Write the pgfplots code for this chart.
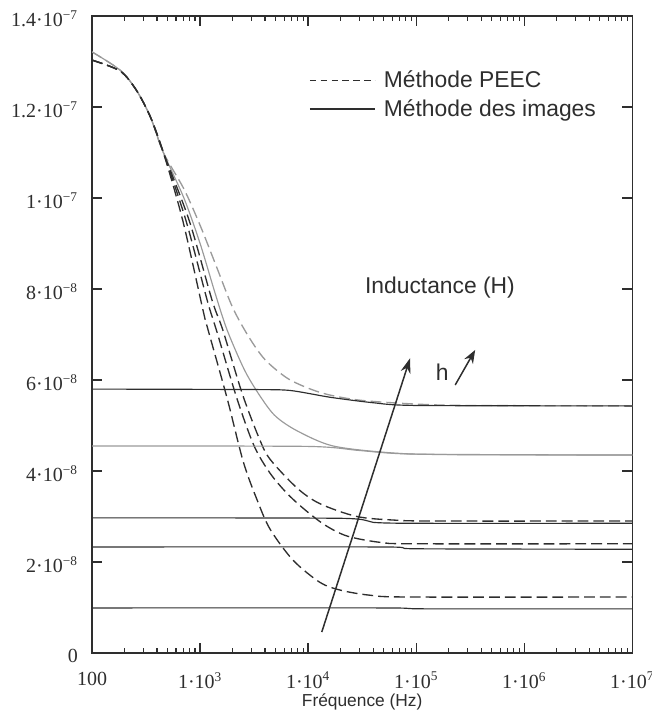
\documentclass[border=0pt]{standalone}
\usepackage{fontspec}
\setmainfont{Liberation Serif}
\newfontfamily\arial{Liberation Sans}
\usepackage{pgfplots}
\pgfplotsset{compat=1.18}
\usetikzlibrary{arrows.meta}

\definecolor{cInk}{HTML}{2E2E2E}
\definecolor{cLight}{HTML}{9A9A9A}

\begin{document}
\begin{tikzpicture}
\begin{axis}[
  scale only axis,
  width=324pt, height=382pt,
  xmode=log,
  xmin=100, xmax=1e7,
  ymin=0, ymax=1.4e-7,
  xtick={100,1e3,1e4,1e5,1e6,1e7},
  xticklabels={100, 1·10\textsuperscript{3}, 1·10\textsuperscript{4}, 1·10\textsuperscript{5}, 1·10\textsuperscript{6}, 1·10\textsuperscript{7}},
  ytick={0,2e-8,4e-8,6e-8,8e-8,1e-7,1.2e-7,1.4e-7},
  yticklabels={0, 2·10\textsuperscript{−8}, 4·10\textsuperscript{−8}, 6·10\textsuperscript{−8}, 8·10\textsuperscript{−8}, 1·10\textsuperscript{−7}, 1.2·10\textsuperscript{−7}, 1.4·10\textsuperscript{−7}},
  scaled y ticks=false,
  minor xtick={}, minor ytick={},
  tick align=inside,
  major tick length=6pt,
  axis line style={line width=0.9pt, cInk},
  tick style={line width=0.8pt, cInk},
  ticklabel style={font=\fontsize{12}{14}\selectfont, text=cInk},
  yticklabel style={xshift=-5pt, yshift=-1.5pt},
  xticklabel style={yshift=-8pt},
  xlabel={\arial\fontsize{10.4}{12}\selectfont Fréquence (Hz)},
  xlabel style={yshift=4pt, text=cInk},
  legend cell align=left,
  legend style={at={(rel axis cs:0.392,0.925)}, anchor=north west, draw=none, fill=none,
    font=\arial\fontsize{13.7}{16.5}\selectfont, text=cInk, row sep=1.5pt},
  legend image code/.code={\draw[#1] (0pt,0pt) -- (39pt,0pt);},
]

% legende
\addlegendimage{cInk, line width=0.8pt, dash pattern=on 4pt off 2.5pt}
\addlegendentry{\hspace{3pt}Méthode PEEC}
\addlegendimage{cInk, line width=0.8pt}
\addlegendentry{\hspace{3pt}Méthode des images}

% --- Methode PEEC (tirets) ---
\addplot[cLight, line width=0.8pt, dash pattern=on 6.5pt off 3pt, smooth, tension=0.5, forget plot] coordinates {
  (100,1.321e-7) (182,1.281e-7) (257,1.237e-7) (347,1.178e-7) (457,1.10e-7)
  (708,1.02e-7) (1000,9.4e-8) (1413,8.5e-8) (1995,7.6e-8) (2818,6.95e-8)
  (3981,6.45e-8) (6310,6.05e-8) (10000,5.82e-8) (15849,5.67e-8) (31623,5.55e-8)
  (1e5,5.47e-8) (316228,5.44e-8) (1e7,5.43e-8)
};
\addplot[cLight, line width=0.7pt, smooth, tension=0.5, forget plot] coordinates {
  (100,1.321e-7) (182,1.281e-7) (257,1.237e-7) (347,1.178e-7) (457,1.10e-7)
  (708,1.0e-7) (1000,9.0e-8) (1380,7.9e-8) (1778,7.1e-8) (2600,6.2e-8)
  (3700,5.6e-8) (5012,5.2e-8) (7943,4.88e-8) (16982,4.55e-8) (57544,4.40e-8)
  (199526,4.36e-8) (1e7,4.35e-8)
};
\addplot[cInk, line width=0.8pt, dash pattern=on 6.5pt off 3pt, smooth, tension=0.5, forget plot] coordinates {
  (100,1.303e-7) (182,1.279e-7) (257,1.237e-7) (347,1.178e-7) (457,1.10e-7)
  (794,9.5e-8) (1288,7.76e-8) (1622,7.10e-8) (2455,5.70e-8) (3548,4.70e-8)
  (4467,4.25e-8) (7943,3.62e-8) (12882,3.28e-8) (28184,3.0e-8) (63096,2.92e-8)
  (158489,2.90e-8) (1e7,2.90e-8)
};
\addplot[cInk, line width=0.8pt, dash pattern=on 6.5pt off 3pt, smooth, tension=0.5, forget plot] coordinates {
  (100,1.303e-7) (182,1.279e-7) (257,1.237e-7) (347,1.178e-7) (457,1.10e-7)
  (741,9.5e-8) (1161,7.76e-8) (1435,7.05e-8) (2188,5.60e-8) (3162,4.55e-8)
  (4446,3.95e-8) (6310,3.52e-8) (8995,3.18e-8) (14125,2.82e-8) (22909,2.57e-8)
  (46774,2.43e-8) (1e5,2.40e-8) (1e7,2.40e-8)
};
\addplot[cInk, line width=0.8pt, dash pattern=on 6.5pt off 3pt, smooth, tension=0.5, forget plot] coordinates {
  (100,1.303e-7) (182,1.279e-7) (257,1.237e-7) (347,1.178e-7) (457,1.10e-7)
  (692,9.5e-8) (1072,7.5e-8) (1186,7.1e-8) (1778,5.6e-8) (2512,4.2e-8)
  (3388,3.35e-8) (4446,2.72e-8) (7244,2.04e-8) (12882,1.55e-8) (19953,1.38e-8)
  (37154,1.27e-8) (87096,1.23e-8) (1e7,1.23e-8)
};

% --- Methode des images (traits pleins) ---
\addplot[cInk, line width=0.7pt, smooth, tension=0.4, forget plot] coordinates {
  (100,5.80e-8) (3000,5.79e-8) (6800,5.77e-8) (16000,5.62e-8) (40000,5.50e-8) (1e5,5.44e-8) (1e7,5.43e-8)
};
\addplot[cLight, line width=0.7pt, smooth, tension=0.4, forget plot] coordinates {
  (100,4.55e-8) (10000,4.54e-8) (30000,4.45e-8) (1e5,4.37e-8) (1e7,4.35e-8)
};
\addplot[cInk, line width=0.7pt, smooth, tension=0.4, forget plot] coordinates {
  (100,2.97e-8) (20000,2.96e-8) (40000,2.87e-8) (1e5,2.85e-8) (1e7,2.85e-8)
};
\addplot[cInk, line width=0.7pt, smooth, tension=0.4, forget plot] coordinates {
  (100,2.33e-8) (50000,2.33e-8) (1e5,2.29e-8) (1e7,2.28e-8)
};
\addplot[cInk, line width=0.7pt, smooth, tension=0.4, forget plot] coordinates {
  (100,0.99e-8) (50000,0.99e-8) (1.2e5,0.97e-8) (1e7,0.97e-8)
};

% annotations
\node[font=\arial\fontsize{13.7}{16.5}\selectfont, text=cInk] at (axis cs:166000,8.03e-8) {Inductance (H)};
\node[font=\arial\fontsize{13.7}{16.5}\selectfont, text=cInk] at (axis cs:174000,6.17e-8) {h};
\draw[cInk, line width=0.9pt, -{Stealth[length=9pt,width=6pt]}] (axis cs:13370,0.46e-8) -- (axis cs:87900,6.48e-8);
\draw[cInk, line width=0.9pt, -{Stealth[length=8pt,width=6pt]}] (axis cs:229600,5.89e-8) -- (axis cs:351600,6.66e-8);

\coordinate (bl) at (rel axis cs:0,0);
\coordinate (tr) at (rel axis cs:1,1);
\end{axis}
\pgfresetboundingbox
\useasboundingbox ([xshift=-55.2pt,yshift=-34.8pt]bl) rectangle ([xshift=11.4pt,yshift=9.6pt]tr);
\end{tikzpicture}
\end{document}
